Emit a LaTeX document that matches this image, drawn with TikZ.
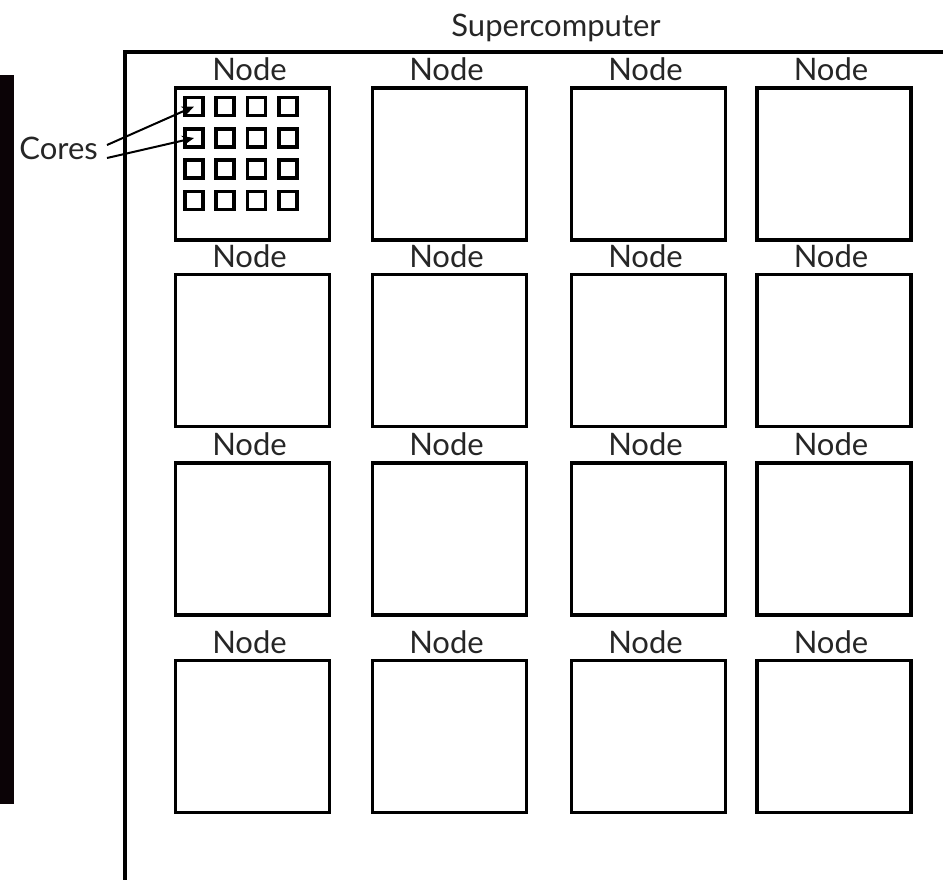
\documentclass[tikz,border=0pt]{standalone}
\usepackage{fontspec}
\setmainfont{Lato}
\usetikzlibrary{arrows.meta,shadows}
\definecolor{bardark}{HTML}{0B0306}
\begin{document}
\begin{tikzpicture}[x=1pt,y=-1pt,
  shad/.style={drop shadow={shadow xshift=1.2pt,shadow yshift=-1.6pt,opacity=0.28,fill=black}},
  nodebox/.style={draw=black,line width=3.2pt,fill=white,minimum width=154pt,minimum height=152pt,inner sep=0pt,shad},
  corebox/.style={draw=black,line width=3.2pt,fill=white,minimum width=18pt,minimum height=18pt,inner sep=0pt,shad},
  lbl/.style={inner sep=0pt,font=\fontsize{31}{36}\selectfont,text=black!85},
  frame/.style={draw=black,line width=3.2pt},
  arr/.style={draw=black,line width=2pt,-{Stealth[length=12pt,width=10pt]}}
]
\useasboundingbox (0,0) rectangle (943,879);
\clip (0,0) rectangle (943,879);
% black bar on the left
\fill[bardark] (0,75) rectangle (14,804);
% supercomputer frame
\coordinate (fb) at (125,900);
\coordinate (fc) at (125,52);
\coordinate (fr) at (960,52);
\draw[frame] (fb) -- (fc) -- (fr);
\node[lbl,anchor=base] (super) at (556,36) {Supercomputer};
% node boxes
\foreach \r/\y in {1/164,2/350.5,3/539,4/736.5}{
  \foreach \c/\x in {1/252.5,2/449.5,3/648.5,4/834}{
    \node[nodebox] (n-\r-\c) at (\x,\y) {};
    \node[lbl,anchor=base] (l-\r-\c) at ([xshift=-3pt,yshift=5.5pt]n-\r-\c.north) {Node};
  }
}
% cores in the first node
\foreach \i/\cy in {1/106.5,2/138,3/169,4/200.5}{
  \foreach \j/\cx in {1/194,2/225,3/256.5,4/288}{
    \node[corebox] (core-\i-\j) at (\cx,\cy) {};
  }
}
% Cores label and arrows
\node[lbl,anchor=base east] (cores) at (98,159) {Cores};
\coordinate (a1) at (107,145);
\coordinate (a2) at (107,158);
\draw[arr] (a1) -- (core-1-1.center);
\draw[arr] (a2) -- (core-2-1.center);
\end{tikzpicture}
\end{document}
